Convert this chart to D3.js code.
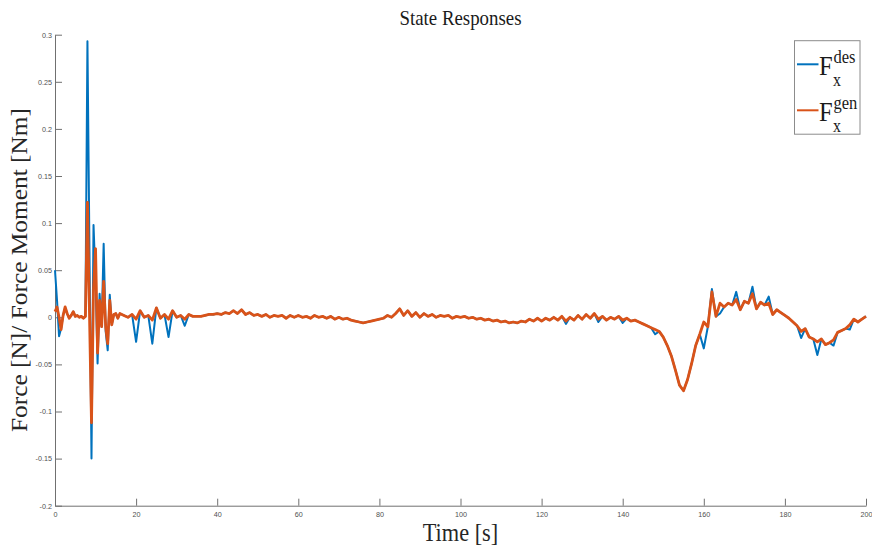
<!DOCTYPE html>
<html>
<head>
<meta charset="utf-8">
<script src="https://cdn.jsdelivr.net/npm/d3@7"></script>
<style>
  html, body { margin: 0; padding: 0; background: #fff; }
  svg { display: block; }
</style>
</head>
<body>
<svg id="chart" width="872" height="551"></svg>
<script>
// Sample times: dense during the initial transient, then once per second.
const timeEarly = [0, 0.5, 1, 1.5, 2, 2.5, 3, 3.5, 4, 4.5, 5, 5.5, 6, 6.5, 7, 7.5, 8,
  8.5, 9, 9.5, 10, 10.5, 11, 11.5, 12, 12.5, 13, 13.5, 14, 14.5, 15, 15.5, 16];
const timeLate = d3.range(17, 201);

// Desired force F_x^des
const desEarly = [0.050, 0.018, -0.020, -0.012, 0.002, 0.010, 0.004, -0.001, 0.002, 0.006,
  0.001, 0.002, 0.000, 0.001, -0.001, 0.001, 0.293, 0.070, -0.150, 0.098, 0.040, -0.049,
  0.025, -0.010, 0.078, -0.015, -0.035, 0.024, -0.008, 0.003, 0.004, -0.001, 0.004];
const desLate = [
  0.002, 0.000, 0.003, -0.026,
  0.007, 0.000, 0.002, -0.028, 0.010, -0.001, 0.003, -0.021, 0.007, 0.000,
  0.002, -0.009, 0.003, 0.001, 0.001, 0.001, 0.002, 0.003, 0.003, 0.004,
  0.003, 0.005, 0.004, 0.007, 0.004, 0.008, 0.003, 0.005, 0.002, 0.003,
  0.001, 0.003, 0.000, 0.002, 0.001, 0.002, -0.001, 0.002, 0.000, 0.002,
  0.000, 0.001, -0.001, 0.002, 0.000, 0.001, -0.001, 0.001, -0.002, 0.000,
  -0.002, -0.001, -0.003, -0.004, -0.005, -0.006, -0.005, -0.004, -0.003, -0.002,
  -0.001, 0.002, 0.000, 0.004, 0.009, 0.002, 0.007, 0.001, 0.005, 0.000,
  0.004, 0.001, 0.003, 0.000, 0.002, 0.001, 0.002, -0.001, 0.001, 0.000,
  0.001, -0.001, 0.000, -0.002, -0.001, -0.003, -0.002, -0.004, -0.003, -0.005,
  -0.004, -0.006, -0.005, -0.006, -0.004, -0.005, -0.002, -0.004, -0.001, -0.004,
  -0.001, -0.003, 0.000, -0.003, 0.001, -0.007, 0.000, -0.003, 0.002, -0.002,
  0.003, -0.001, 0.004, -0.005, 0.001, -0.003, 0.000, -0.002, 0.001, -0.006,
  -0.001, -0.004, -0.003, -0.005, -0.007, -0.009, -0.011, -0.018, -0.015, -0.021,
  -0.030, -0.041, -0.056, -0.072, -0.078, -0.066, -0.049, -0.030, -0.018, -0.033,
  -0.010, 0.030, 0.001, 0.004, 0.011, 0.015, 0.013, 0.027, 0.008, 0.017,
  0.015, 0.0325, 0.009, 0.016, 0.013, 0.022, 0.003, 0.008, 0.005, 0.002,
  -0.001, -0.005, -0.009, -0.022, -0.012, -0.021, -0.023, -0.040, -0.023, -0.029,
  -0.027, -0.030, -0.016, -0.014, -0.012, -0.013, -0.002, -0.005, -0.002, 0.001];

// Generated force F_x^gen
const genEarly = [0.006, 0.011, 0.000, -0.013, 0.002, 0.011, 0.004, -0.001, 0.002, 0.006,
  0.001, 0.002, 0.000, 0.001, -0.001, 0.001, 0.122, 0.005, -0.112, 0.030, 0.073, -0.038,
  0.018, -0.010, 0.038, -0.010, -0.028, 0.018, -0.008, 0.003, 0.004, -0.001, 0.004];
const genLate = [
  0.002, 0.000, 0.003, -0.002,
  0.007, 0.000, 0.002, -0.003, 0.010, -0.001, 0.003, -0.002, 0.007, 0.000,
  0.002, -0.002, 0.003, 0.001, 0.001, 0.001, 0.002, 0.003, 0.003, 0.004,
  0.003, 0.005, 0.004, 0.007, 0.004, 0.008, 0.003, 0.005, 0.002, 0.003,
  0.001, 0.003, 0.000, 0.002, 0.001, 0.002, -0.001, 0.002, 0.000, 0.002,
  0.000, 0.001, -0.001, 0.002, 0.000, 0.001, -0.001, 0.001, -0.002, 0.000,
  -0.002, -0.001, -0.003, -0.004, -0.005, -0.006, -0.005, -0.004, -0.003, -0.002,
  -0.001, 0.002, 0.000, 0.004, 0.009, 0.002, 0.007, 0.001, 0.005, 0.000,
  0.004, 0.001, 0.003, 0.000, 0.002, 0.001, 0.002, -0.001, 0.001, 0.000,
  0.001, -0.001, 0.000, -0.002, -0.001, -0.003, -0.002, -0.004, -0.003, -0.005,
  -0.004, -0.006, -0.005, -0.006, -0.004, -0.005, -0.002, -0.004, -0.001, -0.004,
  -0.001, -0.003, 0.000, -0.003, 0.001, -0.004, 0.000, -0.003, 0.002, -0.002,
  0.003, -0.001, 0.004, -0.002, 0.001, -0.003, 0.000, -0.002, 0.001, -0.003,
  -0.001, -0.004, -0.003, -0.005, -0.007, -0.009, -0.011, -0.013, -0.015, -0.021,
  -0.030, -0.041, -0.056, -0.072, -0.078, -0.066, -0.049, -0.030, -0.018, -0.005,
  -0.010, 0.027, 0.001, 0.015, 0.011, 0.015, 0.013, 0.019, 0.008, 0.017,
  0.015, 0.025, 0.009, 0.016, 0.013, 0.015, 0.003, 0.008, 0.005, 0.002,
  -0.001, -0.005, -0.009, -0.015, -0.012, -0.021, -0.023, -0.026, -0.023, -0.029,
  -0.027, -0.024, -0.016, -0.014, -0.012, -0.008, -0.002, -0.005, -0.002, 0.001];

const xTicks = [0, 20, 40, 60, 80, 100, 120, 140, 160, 180, 200];
const yTicks = [-0.2, -0.15, -0.1, -0.05, 0, 0.05, 0.1, 0.15, 0.2, 0.25, 0.3];
const yTickLabels = ["-0.2", "-0.15", "-0.1", "-0.05", "0", "0.05", "0.1", "0.15", "0.2", "0.25", "0.3"];
const seriesNames = ["des", "gen"];
const seriesColors = ["#0072BD", "#D95319"];

const titleText = "State Responses";
const xLabelText = "Time [s]";
const yLabelText = "Force [N]/ Force Moment [Nm]";

// ---- layout ----
const plot = { left: 55, right: 866, top: 34.7, bottom: 505.7 };
const serif = "'Liberation Serif', 'Times New Roman', serif";
const sans = "'Liberation Sans', Arial, Helvetica, sans-serif";
const textStretch = 1.15;

const svg = d3.select("#chart");

const x = d3.scaleLinear().domain([0, 200]).range([plot.left, plot.right]);
const y = d3.scaleLinear().domain([-0.2, 0.3]).range([plot.bottom, plot.top]);

const time = timeEarly.concat(timeLate);
const des = desEarly.concat(desLate);
const gen = genEarly.concat(genLate);

// ---- axes (left and bottom only, ticks pointing inward) ----
const xAxis = d3.axisBottom(x).tickValues(xTicks).tickFormat(d3.format("d"))
  .tickSizeInner(-7).tickSizeOuter(0).tickPadding(6.5);
const yAxis = d3.axisLeft(y).tickValues(yTicks)
  .tickFormat((d, i) => yTickLabels[i])
  .tickSizeInner(-7).tickSizeOuter(0).tickPadding(3);

const gx = svg.append("g").attr("transform", `translate(0,${plot.bottom})`).call(xAxis);
const gy = svg.append("g").attr("transform", `translate(${plot.left},0)`).call(yAxis);

[gx, gy].forEach(g => {
  g.select(".domain").attr("stroke", "#707070").attr("stroke-width", 1);
  g.selectAll(".tick line").attr("stroke", "#707070").attr("stroke-width", 1);
  g.selectAll(".tick text").attr("fill", "#505050").attr("font-family", sans).attr("font-size", 7.2);
});

// ---- series ----
const line = d3.line().x(d => x(d[0])).y(d => y(d[1])).curve(d3.curveLinear);

svg.append("path")
  .datum(time.map((t, i) => [t, des[i]]))
  .attr("fill", "none").attr("stroke", seriesColors[0])
  .attr("stroke-width", 2).attr("stroke-linejoin", "round")
  .attr("d", line);

svg.append("path")
  .datum(time.map((t, i) => [t, gen[i]]))
  .attr("fill", "none").attr("stroke", seriesColors[1])
  .attr("stroke-width", 2.8).attr("stroke-linejoin", "round")
  .attr("d", line);

// ---- text helpers ----
function fitWidth(sel, target) {
  const w = sel.node().getComputedTextLength();
  sel.attr("font-size", parseFloat(sel.attr("font-size")) * target / w);
}

// title
const title = svg.append("text")
  .attr("transform", `translate(${(plot.left + plot.right) / 2},25) scale(1,${textStretch})`)
  .attr("text-anchor", "middle").attr("font-family", serif).attr("font-size", 17)
  .attr("fill", "#1a1a1a").text(titleText);
fitWidth(title, 122);

// x label
const xl = svg.append("text")
  .attr("transform", `translate(460.5,541) scale(1,${textStretch})`)
  .attr("text-anchor", "middle").attr("font-family", serif).attr("font-size", 22)
  .attr("fill", "#262626").text(xLabelText);
fitWidth(xl, 75.5);

// y label (rotated, stretched along its length)
const yl = svg.append("text")
  .attr("text-anchor", "middle").attr("font-family", serif).attr("font-size", 22.7)
  .attr("fill", "#262626").text(yLabelText);
const ylLen = yl.node().getComputedTextLength();
yl.attr("transform", `translate(27,270) rotate(-90) scale(${324 / ylLen},1)`);

// ---- legend ----
const legend = svg.append("g");
legend.append("rect")
  .attr("x", 794.5).attr("y", 40.7).attr("width", 65.5).attr("height", 93.5)
  .attr("fill", "#fff").attr("stroke", "#8c8c8c").attr("stroke-width", 1);

const legendRows = [64.3, 110.3];
seriesNames.forEach((name, i) => {
  const ly = legendRows[i];
  legend.append("line")
    .attr("x1", 797).attr("x2", 818.5).attr("y1", ly).attr("y2", ly)
    .attr("stroke", seriesColors[i]).attr("stroke-width", 2);
  const g = legend.append("g").attr("font-family", serif).attr("fill", "#1a1a1a");
  g.append("text")
    .attr("transform", `translate(819,${ly + 10.7}) scale(1,${textStretch})`)
    .attr("font-size", 24.6).text("F");
  g.append("text")
    .attr("transform", `translate(833.5,${ly - 1.8}) scale(1,${textStretch})`)
    .attr("font-size", 16.5).text(name);
  g.append("text")
    .attr("transform", `translate(833,${ly + 22}) scale(1,${textStretch})`)
    .attr("font-size", 16).text("x");
});
</script>
</body>
</html>
